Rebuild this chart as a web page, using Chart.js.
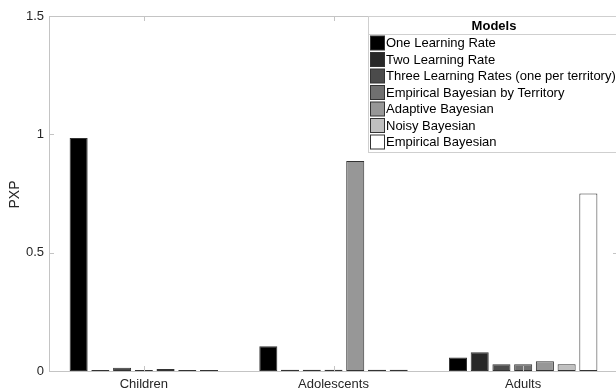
<!DOCTYPE html>
<html>
<head>
<meta charset="utf-8">
<script src="https://cdn.jsdelivr.net/npm/chart.js@4.4.0/dist/chart.umd.min.js"></script>
<style>
  html, body { margin: 0; padding: 0; background: #fff; overflow: hidden; }
  #wrap { width: 616px; height: 390px; overflow: hidden; }
</style>
</head>
<body>
<div id="wrap"><canvas id="pxp" width="622" height="390"></canvas></div>
<script>
// groups and models
const groups = ["Children", "Adolescents", "Adults"];
const models = [
  "One Learning Rate",
  "Two Learning Rate",
  "Three Learning Rates (one per territory)",
  "Empirical Bayesian by Territory",
  "Adaptive Bayesian",
  "Noisy Bayesian",
  "Empirical Bayesian"
];

// PXP per model, one value per group
const oneLR     = [0.984, 0.105, 0.057];
const twoLR     = [0.004, 0.005, 0.079];
const threeLR   = [0.014, 0.005, 0.028];
const ebTerr    = [0.004, 0.005, 0.028];
const adaptive  = [0.008, 0.887, 0.041];
const noisy     = [0.004, 0.005, 0.028];
const empirical = [0.004, 0.005, 0.750];

const yTicks = [0, 0.5, 1, 1.5];

const series = [oneLR, twoLR, threeLR, ebTerr, adaptive, noisy, empirical];
const fills = ["#000000", "#282828", "#4b4b4b", "#707070", "#979797", "#c0c0c0", "#ffffff"];

const C = {
  axis: "#c4c4c4",
  text: "#262626",
  edge: "#333333"
};
const FONT = "'Liberation Sans', Arial, sans-serif";

const frame = {
  id: "frame",
  afterDatasetsDraw(chart) {
    const { ctx, chartArea: a, scales } = chart;
    ctx.save();
    ctx.strokeStyle = C.axis;
    ctx.lineWidth = 1;
    ctx.strokeRect(a.left + 0.5, a.top + 0.5, a.right - a.left - 1, a.bottom - a.top);

    // inward ticks, all four sides
    const tl = 5;
    ctx.beginPath();
    yTicks.forEach(v => {
      const y = Math.round(scales.y.getPixelForValue(v)) + 0.5;
      ctx.moveTo(a.left, y); ctx.lineTo(a.left + tl, y);
      ctx.moveTo(a.right, y); ctx.lineTo(a.right - tl, y);
    });
    groups.forEach((g, i) => {
      const x = Math.round(scales.x.getPixelForValue(i)) + 0.5;
      ctx.moveTo(x, a.bottom); ctx.lineTo(x, a.bottom - tl);
      ctx.moveTo(x, a.top); ctx.lineTo(x, a.top + tl);
    });
    ctx.stroke();

    // y title
    ctx.fillStyle = C.text;
    ctx.font = "14px " + FONT;
    ctx.textAlign = "center";
    ctx.textBaseline = "middle";
    ctx.translate(15, (a.top + a.bottom) / 2 + 1);
    ctx.rotate(-Math.PI / 2);
    ctx.fillText("PXP", 0, 0);
    ctx.restore();

    // legend
    const lx = 368.5, ly = 16.5, lw = 252, rowH = 16.5;
    const lh = 136;
    ctx.save();
    ctx.fillStyle = "#fff";
    ctx.fillRect(lx, ly, lw, lh);
    ctx.strokeStyle = "#cfcfcf";
    ctx.strokeRect(lx, ly, lw, lh);
    ctx.beginPath();
    ctx.moveTo(lx, 34.5); ctx.lineTo(lx + lw, 34.5);
    ctx.stroke();
    ctx.fillStyle = "#000";
    ctx.font = "bold 13px " + FONT;
    ctx.textAlign = "center";
    ctx.textBaseline = "middle";
    ctx.fillText("Models", 494, 26);
    ctx.font = "13px " + FONT;
    ctx.textAlign = "left";
    chart.data.datasets.forEach((ds, i) => {
      const cy = 43 + i * rowH;
      ctx.fillStyle = ds.backgroundColor;
      ctx.fillRect(370.5, cy - 7, 14, 14);
      ctx.strokeStyle = C.edge;
      ctx.strokeRect(370.5, cy - 7, 14, 14);
      ctx.fillStyle = "#000";
      ctx.fillText(ds.label, 386, cy + 0.5);
    });
    ctx.restore();
  }
};

new Chart(document.getElementById("pxp"), {
  type: "bar",
  data: {
    labels: groups,
    datasets: models.map((m, i) => ({
      label: m,
      data: series[i],
      backgroundColor: fills[i],
      borderColor: C.edge,
      borderWidth: 1,
      borderSkipped: false,
      categoryPercentage: 0.802,
      barPercentage: 0.83
    }))
  },
  options: {
    responsive: false,
    animation: false,
    layout: { padding: { left: 0, top: 16, right: 4, bottom: 0 } },
    plugins: { legend: { display: false }, tooltip: { enabled: false } },
    scales: {
      x: {
        grid: { display: false, drawTicks: false },
        border: { display: false },
        ticks: {
          color: C.text,
          padding: 6,
          font: { size: 13, family: FONT }
        },
        afterFit(s) { s.height = 19; }
      },
      y: {
        min: 0,
        max: 1.5,
        afterBuildTicks(s) { s.ticks = yTicks.map(v => ({ value: v })); },
        grid: { display: false, drawTicks: false },
        border: { display: false },
        ticks: {
          color: C.text,
          padding: 5,
          font: { size: 13, family: FONT },
          callback: v => String(v)
        },
        afterFit(s) { s.width = 49; }
      }
    }
  },
  plugins: [frame]
});
</script>
</body>
</html>
